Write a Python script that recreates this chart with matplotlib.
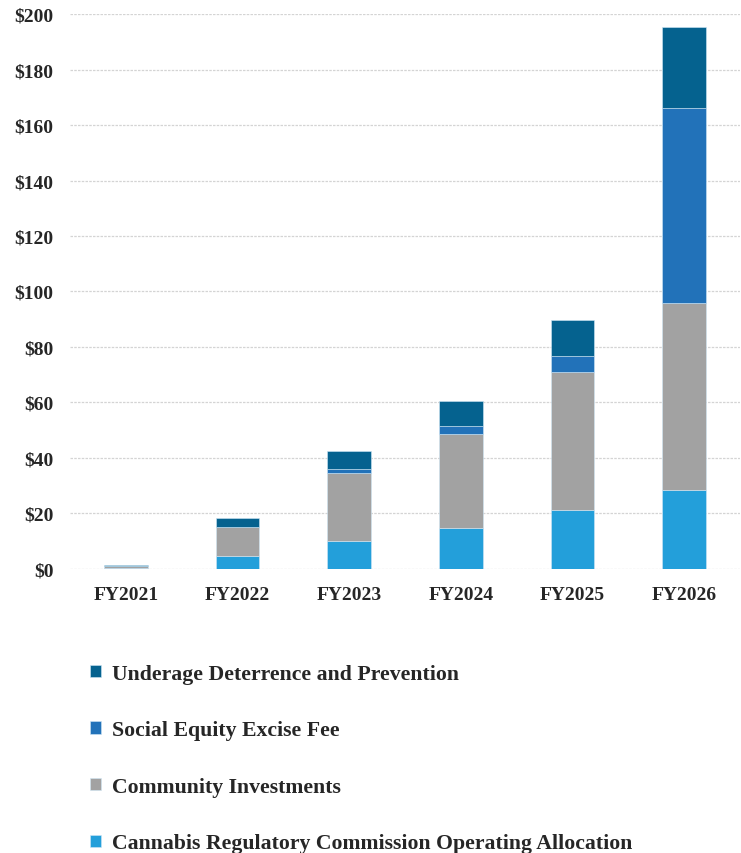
import numpy as np
import matplotlib
matplotlib.use("Agg")
from matplotlib import pyplot as plt
from matplotlib.ticker import FuncFormatter

# data (millions of dollars)
years = ["FY2021", "FY2022", "FY2023", "FY2024", "FY2025", "FY2026"]
crc_operating = [0.3, 4.6, 10.1, 14.7, 21.3, 28.5]
community = [0.8, 10.4, 24.4, 33.8, 49.7, 67.4]
social_equity = [0.1, 0.2, 1.5, 3.0, 5.8, 70.3]
underage = [0.3, 3.0, 6.5, 8.9, 12.9, 29.0]

series_names = [
    "Cannabis Regulatory Commission Operating Allocation",
    "Community Investments",
    "Social Equity Excise Fee",
    "Underage Deterrence and Prevention",
]
colors = ["#239FDA", "#A2A2A2", "#2272B9", "#05628F"]

plt.rcParams["font.family"] = ["Liberation Serif", "DejaVu Serif"]
plt.rcParams["font.weight"] = "bold"

fig = plt.figure(figsize=(7.41, 8.54), dpi=100)
ax = fig.add_axes([0.0945, 0.3326, 0.904, 0.6498])

x = np.arange(len(years))
bottom = np.zeros(len(years))
handles = []
for name, vals, c in zip(series_names, [crc_operating, community, social_equity, underage], colors):
    b = ax.bar(x, vals, width=0.39, bottom=bottom, color=c, label=name,
               edgecolor="#CFE6F5", linewidth=0.4, zorder=3)
    handles.append(b)
    bottom += np.array(vals)

ax.set_ylim(0, 200)
ax.set_xlim(-0.5, len(years) - 0.5)
ax.set_yticks(np.arange(0, 201, 20))
ax.yaxis.set_major_formatter(FuncFormatter(lambda v, p: "${:.0f}".format(v)))
ax.set_xticks(x)
ax.set_xticklabels(years)
ax.tick_params(axis="both", length=0, labelsize=14, colors="#262626")
ax.tick_params(axis="x", pad=12)
ax.tick_params(axis="y", pad=12)
for lbl in ax.get_xticklabels() + ax.get_yticklabels():
    lbl.set_fontweight("bold")

ax.yaxis.grid(True, color="#D4D4D4", linewidth=0.9, linestyle=(0, (2, 1)), zorder=0)
for s in ax.spines.values():
    s.set_visible(False)

leg = fig.legend(handles[::-1], series_names[::-1], loc="upper left",
                 bbox_to_anchor=(0.110, 0.232), frameon=False,
                 prop={"size": 15.7, "weight": "bold"}, labelspacing=1.68,
                 handlelength=0.5, handleheight=0.5, handletextpad=0.5,
                 borderaxespad=0)
for t in leg.get_texts():
    t.set_color("#262626")

fig.savefig("out.png", dpi=100)
